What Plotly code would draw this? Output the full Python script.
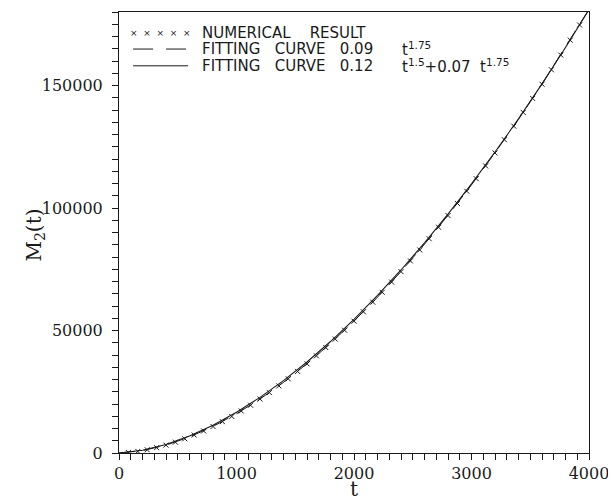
import plotly.graph_objects as go

# Numerical result (sampled every 80 time units)
t_num = [80 * k for k in range(1, 51)]
m_num = [193, 648, 1317, 2178, 3218, 4428, 5800, 7326, 9002, 10825,
         12790, 14895, 17135, 19506, 22012, 24640, 27398, 30280, 33283, 36401,
         39653, 43024, 46509, 50108, 53804, 57635, 61562, 65604, 69762, 74016,
         78406, 82871, 87453, 92131, 96923, 101853, 106838, 111959, 117176, 122468,
         127860, 133403, 139005, 144727, 150518, 156426, 162413, 168510, 174694, 180975]

# Fitting curves
t_fit = [0, 200, 400, 600, 800, 1000, 1200, 1400, 1600, 1800, 2000,
         2200, 2400, 2600, 2800, 3000, 3200, 3400, 3600, 3800, 4000]
m_fit1 = [0, 957, 3220, 6546, 10831, 16005, 22023, 28836, 36432, 44775, 53838,
          63621, 74088, 85239, 97047, 109458, 122544, 136233, 150579, 165528, 181044]
m_fit2 = [0, 1100, 3500, 6950, 11350, 16600, 22700, 29550, 37150, 45500, 54550,
          64300, 74700, 85800, 97500, 109850, 122850, 136400, 150650, 165500, 181000]

x_ticks = [0, 1000, 2000, 3000, 4000]
y_ticks = [0, 50000, 100000, 150000]

SP = "\u00a0\u00a0\u00a0"
legend_left = ["NUMERICAL" + SP + "\u00a0RESULT",
               "FITTING" + SP + "CURVE" + SP + "0.09",
               "FITTING" + SP + "CURVE" + SP + "0.12"]
legend_right = ["",
                "t<sup>1.75</sup>",
                "t<sup>1.5</sup>+0.07\u00a0\u00a0t<sup>1.75</sup>"]

INK = "#1a1a1a"
DASH = "16px,9px"

fig = go.Figure()
fig.add_trace(go.Scatter(x=t_fit, y=m_fit1, mode="lines",
                         line=dict(color=INK, width=1, dash=DASH), showlegend=False))
fig.add_trace(go.Scatter(x=t_fit, y=m_fit2, mode="lines",
                         line=dict(color=INK, width=1.1), showlegend=False))
fig.add_trace(go.Scatter(x=t_num, y=m_num, mode="markers",
                         marker=dict(symbol="x-thin", size=5, line=dict(color=INK, width=1)),
                         showlegend=False))

serif = "DejaVu Serif"
# The page body adds an 8px offset, so the figure is 8px smaller than the window.
fig.update_layout(
    width=608, height=492,
    margin=dict(l=111, r=27, t=4, b=47),
    paper_bgcolor="white", plot_bgcolor="white",
    showlegend=False,
    font=dict(family=serif, color=INK),
    xaxis=dict(range=[0, 4000], tickvals=x_ticks, ticktext=[str(v) for v in x_ticks],
               ticks="outside", ticklen=6, tickwidth=1, tickcolor=INK,
               showline=True, linecolor=INK, linewidth=1, mirror=True,
               showgrid=False, zeroline=False, automargin=False,
               tickfont=dict(family=serif, size=16, color=INK),
               minor=dict(dtick=100, ticks="outside", ticklen=6, tickcolor=INK, showgrid=False)),
    yaxis=dict(range=[0, 180000], tickvals=y_ticks, ticktext=[str(v) for v in y_ticks],
               ticks="outside", ticklen=6, tickwidth=1, tickcolor=INK,
               showline=True, linecolor=INK, linewidth=1, mirror=True,
               showgrid=False, zeroline=False, automargin=False,
               ticklabelstandoff=6,
               tickfont=dict(family=serif, size=16, color=INK),
               minor=dict(dtick=5000, ticks="outside", ticklen=6, tickcolor=INK, showgrid=False)),
)

# Axis titles
fig.add_annotation(x=0.5, y=-0.082, xref="paper", yref="paper", text="t", showarrow=False,
                   xanchor="center", yanchor="middle",
                   font=dict(family=serif, size=20, color=INK))
fig.add_annotation(x=-0.179, y=0.495, xref="paper", yref="paper", text="M<sub>2</sub>(t)",
                   showarrow=False, textangle=-90, xanchor="center", yanchor="middle",
                   font=dict(family=serif, size=20, color=INK))

# Legend drawn inside the plot area (paper coordinates)
rows_y = [0.952, 0.916, 0.878]
sample_x0, sample_x1 = 0.030, 0.147
text_x, text_x2 = 0.172, 0.598
sans = "DejaVu Sans"
for yv, lab, lab2 in zip(rows_y, legend_left, legend_right):
    fig.add_annotation(x=text_x, y=yv, xref="paper", yref="paper", text=lab,
                       showarrow=False, xanchor="left", yanchor="middle",
                       font=dict(family=sans, size=15, color=INK))
    if lab2:
        fig.add_annotation(x=text_x2, y=yv, xref="paper", yref="paper", text=lab2,
                           showarrow=False, xanchor="left", yanchor="middle",
                           font=dict(family=sans, size=15, color=INK))
fig.add_annotation(x=(sample_x0 + sample_x1) / 2, y=rows_y[0], xref="paper", yref="paper",
                   text="×\u00a0\u00a0×\u00a0\u00a0×\u00a0\u00a0×\u00a0\u00a0×", showarrow=False,
                   xanchor="center", yanchor="middle",
                   font=dict(family=sans, size=9, color=INK))
fig.add_shape(type="line", xref="paper", yref="paper", x0=sample_x0, x1=sample_x1,
              y0=rows_y[1], y1=rows_y[1], line=dict(color=INK, width=1, dash="20px,13px"))
fig.add_shape(type="line", xref="paper", yref="paper", x0=sample_x0, x1=sample_x1,
              y0=rows_y[2], y1=rows_y[2], line=dict(color=INK, width=1))

fig.write_html("out.html")
